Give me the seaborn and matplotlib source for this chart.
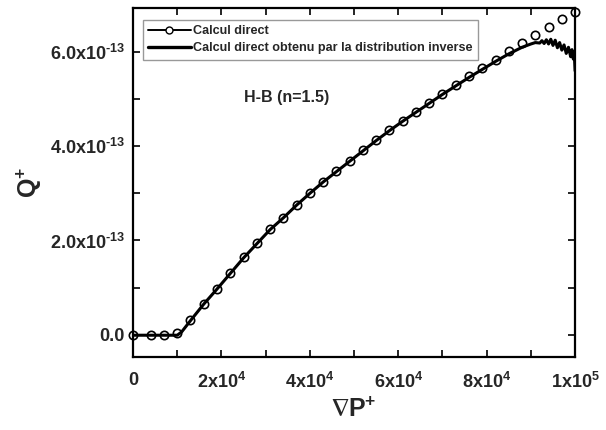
import matplotlib
matplotlib.use("Agg")
import matplotlib.pyplot as plt
import numpy as np
import pandas as pd
import seaborn as sns
from matplotlib.lines import Line2D
from matplotlib.ticker import FuncFormatter

# Calcul direct (circles), x in units of 1e3, y in units of 1e-13
direct_x = [0, 4, 7, 10, 13, 16, 19, 22, 25, 28, 31, 34, 37, 40, 43, 46, 49,
            52, 55, 58, 61, 64, 67, 70, 73, 76, 79, 82, 85, 88, 91, 94, 97, 100]
direct_y = [0.0, 0.0, 0.0, 0.03, 0.31, 0.66, 0.98, 1.31, 1.64, 1.94, 2.24, 2.48,
            2.75, 3.01, 3.25, 3.47, 3.69, 3.91, 4.13, 4.34, 4.54, 4.73, 4.92,
            5.11, 5.30, 5.49, 5.67, 5.84, 6.03, 6.20, 6.36, 6.53, 6.69, 6.85]

# Calcul direct obtenu par la distribution inverse (solid line)
inverse_x = [0, 5, 10, 11, 13, 16, 19, 22, 25, 28, 31, 34, 37, 40, 43, 46, 49,
             52, 55, 58, 61, 64, 67, 70, 73, 76, 79, 82, 85, 88, 90, 91, 92,
             92.5, 93, 93.5, 94, 94.5, 95, 95.5, 96, 96.5, 97, 97.5, 98, 98.5,
             99, 99.3, 99.6, 99.8, 100]
inverse_y = [-0.01, -0.01, -0.01, 0.06, 0.30, 0.65, 0.97, 1.30, 1.63, 1.93,
             2.23, 2.48, 2.75, 3.00, 3.24, 3.46, 3.68, 3.90, 4.12, 4.33, 4.53,
             4.72, 4.91, 5.10, 5.28, 5.46, 5.63, 5.80, 5.96, 6.10, 6.17, 6.20,
             6.19, 6.24, 6.18, 6.26, 6.17, 6.27, 6.14, 6.25, 6.09, 6.20, 6.04,
             6.15, 5.97, 6.10, 5.90, 6.05, 5.85, 6.00, 5.60]

x_major = [0, 2e4, 4e4, 6e4, 8e4, 1e5]
x_minor = [1e4, 3e4, 5e4, 7e4, 9e4]
y_major = [0, 2e-13, 4e-13, 6e-13]
y_minor = [1e-13, 3e-13, 5e-13]

legend_labels = ["Calcul direct", "Calcul direct obtenu par la distribution inverse"]
annotation = "H-B (n=1.5)"

sns.set_style("ticks")
plt.rcParams["font.family"] = ["Liberation Sans", "DejaVu Sans"]
plt.rcParams["font.weight"] = "bold"
plt.rcParams["mathtext.fontset"] = "custom"
plt.rcParams["mathtext.rm"] = "Liberation Sans:bold"
plt.rcParams["mathtext.it"] = "Liberation Sans:bold"
plt.rcParams["mathtext.bf"] = "Liberation Sans:bold"
plt.rcParams["mathtext.fallback"] = "stixsans"

direct = pd.DataFrame({"x": np.array(direct_x) * 1e3, "y": np.array(direct_y) * 1e-13})
inverse = pd.DataFrame({"x": np.array(inverse_x) * 1e3, "y": np.array(inverse_y) * 1e-13})

fig = plt.figure(figsize=(6.06, 4.30), dpi=100)
ax = fig.add_axes([0.2195, 0.170, 0.7295, 0.811])

sns.scatterplot(data=direct, x="x", y="y", ax=ax, marker="o", s=36,
                facecolor="white", edgecolor="black", linewidth=1.2,
                zorder=2, clip_on=False, legend=False)
sns.lineplot(data=inverse, x="x", y="y", ax=ax, color="black", linewidth=2.2,
             zorder=3, sort=False, legend=False)

ax.set_xlim(0, 1e5)
ax.set_ylim(-0.47e-13, 6.93e-13)

ax.set_xticks(x_major)
ax.set_xticks(x_minor, minor=True)
ax.set_yticks(y_major)
ax.set_yticks(y_minor, minor=True)


def fmt_x(v, pos):
    if abs(v) < 1:
        return "0"
    e = int(np.floor(np.log10(abs(v)) + 1e-9))
    m = v / 10 ** e
    return f"{m:.0f}x10$^{{{e}}}$"


def fmt_y(v, pos):
    if abs(v) < 1e-20:
        return "0.0"
    return f"{v / 1e-13:.1f}x10$^{{\\text{{-}}13}}$"


ax.xaxis.set_major_formatter(FuncFormatter(fmt_x))
ax.yaxis.set_major_formatter(FuncFormatter(fmt_y))

ax.tick_params(which="both", direction="in", top=True, right=True,
               length=5, width=1.2, color="black")
ax.tick_params(axis="x", which="major", labelsize=13, pad=11)
ax.tick_params(axis="y", which="major", labelsize=13, pad=6)
for s in ax.spines.values():
    s.set_linewidth(1.6)
    s.set_color("black")

ax.set_xlabel(r"$\nabla$P$^{+}$", fontsize=18, fontweight="bold", labelpad=4)
ax.set_ylabel("Q$^{+}$", fontsize=18, fontweight="bold", labelpad=4)

ax.text(0.25, 0.745, annotation, transform=ax.transAxes, fontsize=11.5,
        fontweight="bold", ha="left", va="center")

handles = [
    Line2D([], [], color="black", linewidth=1.4, marker="o", markersize=5,
           markerfacecolor="white", markeredgecolor="black"),
    Line2D([], [], color="black", linewidth=2.4),
]
leg = ax.legend(handles, legend_labels, loc="upper left",
                bbox_to_anchor=(0.022, 0.965), borderaxespad=0,
                prop={"weight": "bold", "size": 9.1},
                handlelength=3.4, handletextpad=0.2, labelspacing=0.4,
                borderpad=0.4, frameon=True, fancybox=False)
leg.get_frame().set_edgecolor("#808080")
leg.get_frame().set_linewidth(1.0)

fig.savefig("out.png", dpi=100)
